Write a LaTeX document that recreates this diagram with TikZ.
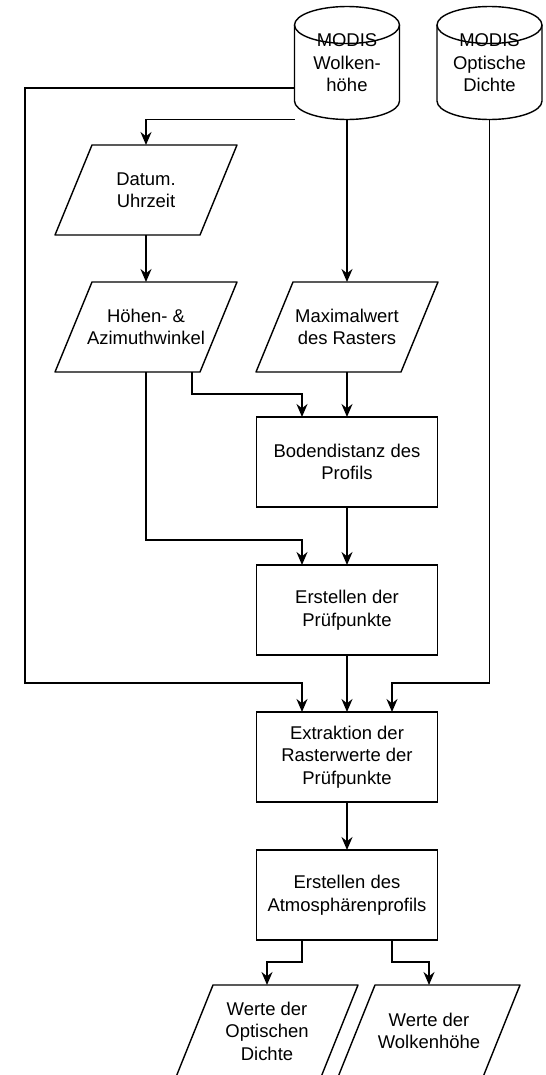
\documentclass[tikz,border=0pt]{standalone}
\usepackage{fontspec}
\setmainfont{Liberation Sans}
\usetikzlibrary{arrows.meta,positioning,calc}

\begin{document}
\begin{tikzpicture}[
    node distance=0.9cm,
    font=\fontsize{10.5pt}{12.8pt}\selectfont,
    box/.style={draw, thick, outer sep=0pt, minimum height=1.8cm, minimum width=3.62cm, align=center},
    data/.style={outer sep=0pt, minimum height=1.8cm, minimum width=3.64cm, align=center},
    store/.style={outer sep=0pt, minimum height=2.26cm, minimum width=2.1cm, align=center},
    outline/.style={thick, line join=round},
    arrow/.style={-{Stealth[length=2.6mm, width=2.2mm]}, thick}
  ]
    \useasboundingbox (0,0) rectangle (10.9,-21.5);
    \node[store] (wolken) at (6.94,-1.26) {MODIS\\Wolken-\\höhe};
    \node[store, right=0.75cm of wolken] (optik) {MODIS\\Optische\\Dichte};
    \node[data] (datum) at (2.92,-3.8) {Datum.\\Uhrzeit};
    \node[data, below=0.94cm of datum] (winkel) {Höhen- \&\\Azimuthwinkel};
    \node[data] (maxwert) at (winkel -| wolken) {Maximalwert\\des Rasters};
    \node[box, below=0.9cm of maxwert] (boden) {Bodendistanz des\\Profils};
    \node[box, below=1.16cm of boden] (pruef) {Erstellen der\\Prüfpunkte};
    \node[box, below=1.14cm of pruef] (extrakt) {Extraktion der\\Rasterwerte der\\Prüfpunkte};
    \node[box, below=0.96cm of extrakt] (atmo) {Erstellen des\\Atmosphärenprofils};
    \node[data, minimum height=1.84cm, below=0.9cm of atmo, xshift=-1.6cm] (optwerte) {Werte der\\Optischen\\Dichte};
    \node[data, minimum height=1.84cm, below=0.9cm of atmo, xshift=1.64cm] (hoehwerte) {Werte der\\Wolkenhöhe};
    \foreach \n in {wolken,optik} {
      \draw[outline] ([yshift=-0.37cm]\n.north) ellipse [x radius=1.05cm, y radius=0.37cm];
      \draw[outline] ([yshift=-0.37cm]\n.north west) -- ([yshift=0.37cm]\n.south west)
        arc [start angle=180, end angle=360, x radius=1.05cm, y radius=0.37cm] -- ([yshift=-0.37cm]\n.north east);
    }
    \foreach \n in {datum,winkel,maxwert,optwerte,hoehwerte}
      \draw[outline] ([xshift=0.74cm]\n.north west) -- (\n.north east) -- ([xshift=-0.74cm]\n.south east) -- (\n.south west) -- cycle;
    \coordinate (links) at (0.5,0);
    \coordinate (sammel) at ($(extrakt.north)+(0,0.58)$);
    \draw[arrow] (wolken.south -| wolken.west) -| (datum.north);
    \draw[arrow] (wolken.south) -- (maxwert.north);
    \draw[arrow] (datum.south) -- (winkel.north);
    \draw[arrow] (maxwert.south) -- (boden.north);
    \draw[arrow] ([xshift=0.92cm]winkel.south) -- ++(0,-0.44) -| ([xshift=-0.9cm]boden.north);
    \draw[arrow] (boden) -- (pruef);
    \draw[arrow] (winkel.south) |- ([xshift=-0.9cm, yshift=0.5cm]pruef.north) -- ([xshift=-0.9cm]pruef.north);
    \draw[arrow] ([yshift=-0.5cm]wolken.west) -| (links |- sammel) -| ([xshift=-0.9cm]extrakt.north);
    \draw[arrow] (pruef) -- (extrakt);
    \draw[arrow] (optik.south) |- ([xshift=0.9cm]sammel) -- ([xshift=0.9cm]extrakt.north);
    \draw[arrow] (extrakt) -- (atmo);
    \draw[arrow] ([xshift=-0.9cm]atmo.south) -- ++(0,-0.44) -| (optwerte.north);
    \draw[arrow] ([xshift=0.9cm]atmo.south) -- ++(0,-0.44) -| (hoehwerte.north);
  \end{tikzpicture}
\end{document}
